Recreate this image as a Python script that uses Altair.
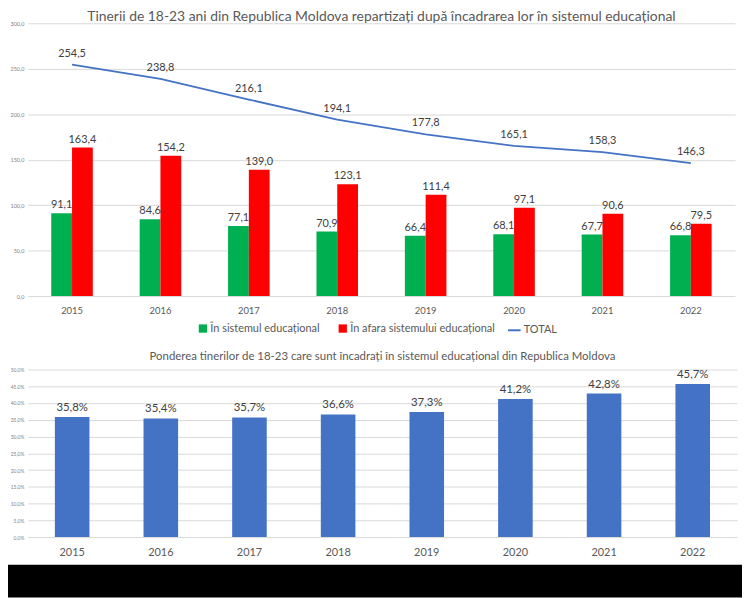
import altair as alt
import pandas as pd

years = ["2015", "2016", "2017", "2018", "2019", "2020", "2021", "2022"]
in_sistem = [91.1, 84.6, 77.1, 70.9, 66.4, 68.1, 67.7, 66.8]
in_afara = [163.4, 154.2, 139.0, 123.1, 111.4, 97.1, 90.6, 79.5]
total = [254.5, 238.8, 216.1, 194.1, 177.8, 165.1, 158.3, 146.3]
pondere = [35.8, 35.4, 35.7, 36.6, 37.3, 41.2, 42.8, 45.7]

S1 = "În sistemul educațional"
S2 = "În afara sistemului educațional"
S3 = "TOTAL"

title_top = "Tinerii de 18-23 ani din Republica Moldova repartizați după încadrarea lor în sistemul educațional"
title_bottom = "Ponderea tinerilor de 18-23 care sunt încadrați în sistemul educațional din Republica Moldova"

bars_df = pd.DataFrame({
    "year": years * 2,
    "series": [S1] * len(years) + [S2] * len(years),
    "value": in_sistem + in_afara,
})
total_df = pd.DataFrame({"year": years, "series": [S3] * len(years), "value": total})
pond_df = pd.DataFrame({"year": years, "value": pondere})

FONT = "Lato"
GRAY = "#595959"
LBL = "#404040"
fmt = "replace(format(datum.value, '.1f'), '.', ',')"
EXT = 20

color = alt.Color(
    "series:N",
    scale=alt.Scale(domain=[S1, S2], range=["#00b050", "#ff0000"]),
    legend=alt.Legend(title=None, orient="none", legendX=171, legendY=302,
                      direction="horizontal", labelFont=FONT, labelFontSize=11,
                      labelColor=GRAY, columnPadding=17, labelOffset=2,
                      symbolType="square", symbolSize=70, symbolStrokeWidth=0),
)
stroke = alt.Stroke(
    "series:N",
    scale=alt.Scale(domain=[S3], range=["#4472c4"]),
    legend=alt.Legend(title=None, orient="none", legendX=483, legendY=302,
                      direction="horizontal", labelFont=FONT, labelFontSize=11,
                      labelColor=GRAY, labelOffset=2,
                      symbolType="stroke", symbolSize=160, symbolStrokeWidth=2),
)

x_top = alt.X(
    "year:N",
    scale=alt.Scale(paddingInner=0.53, paddingOuter=0.265),
    axis=alt.Axis(title=None, labelAngle=0, domain=False, ticks=False, grid=False,
                  labelFont=FONT, labelFontSize=9.5, labelColor=GRAY, labelPadding=10),
)
y_top = alt.Y(
    "value:Q",
    scale=alt.Scale(domain=[0, 300], nice=False),
    axis=alt.Axis(title=None, values=[0, 50, 100, 150, 200, 250, 300], labelExpr=fmt,
                  labelFont=FONT, labelFontSize=5.5, labelColor="#7f7f7f", domain=False,
                  ticks=False, gridColor="#d9d9d9", labelPadding=4),
)
xoff = alt.XOffset("series:N", scale=alt.Scale(domain=[S1, S2], paddingInner=0, paddingOuter=0))

base_bars = alt.Chart(bars_df).transform_calculate(label=fmt)
bars = base_bars.mark_bar().encode(x=x_top, xOffset=xoff, y=y_top, color=color)
bar_text = base_bars.mark_text(dy=-8, font=FONT, fontSize=11, color=LBL).encode(
    x=x_top, xOffset=xoff, y=y_top, text="label:N")

base_tot = alt.Chart(total_df).transform_calculate(label=fmt)
line = base_tot.mark_line(strokeWidth=1.8).encode(x=x_top, y=y_top, stroke=stroke)
line_text = base_tot.mark_text(dy=-11, font=FONT, fontSize=11, color=LBL).encode(
    x=x_top, y=y_top, text="label:N")

top = alt.layer(bars, bar_text, line, line_text).properties(
    width=713, height=275,
    title=alt.TitleParams(title_top, font=FONT, fontSize=14, color=GRAY,
                          fontWeight="normal", offset=-3),
)

x_bot = alt.X(
    "year:N",
    scale=alt.Scale(paddingInner=0.61, paddingOuter=0.305),
    axis=alt.Axis(title=None, labelAngle=0, domain=False, ticks=False, grid=False,
                  labelFont=FONT, labelFontSize=11, labelColor=GRAY, labelPadding=10),
)
y_bot = alt.Y(
    "value:Q",
    scale=alt.Scale(domain=[0, 50], nice=False),
    axis=alt.Axis(title=None, values=list(range(0, 51, 5)), labelExpr=fmt + " + '%'",
                  labelFont=FONT, labelFontSize=5, labelColor="#7f7f7f", domain=False,
                  ticks=False, gridColor="#d9d9d9", labelPadding=4),
)
base_p = alt.Chart(pond_df).transform_calculate(label=fmt + " + '%'")
pbars = base_p.mark_bar(color="#4472c4").encode(x=x_bot, y=y_bot)
ptext = base_p.mark_text(dy=-9, font=FONT, fontSize=11.5, color=LBL).encode(
    x=x_bot, y=y_bot, text="label:N")
bottom = alt.layer(pbars, ptext).properties(
    width=715, height=169,
    title=alt.TitleParams(title_bottom, font=FONT, fontSize=11.5, color=GRAY,
                          fontWeight="normal", offset=5),
)

STRIP_W = 720
STRIP_H = 33
strip = alt.Chart(pd.DataFrame({"a": [0]})).mark_rect(color="black").encode(
    x=alt.value(-EXT), x2=alt.value(STRIP_W), y=alt.value(0), y2=alt.value(STRIP_H)
).properties(width=STRIP_W, height=STRIP_H)

inner = alt.vconcat(top, bottom, spacing=35)
chart = alt.concat(inner, strip, columns=1, spacing=7).properties(
    padding={"left": 0, "top": 0, "right": 0, "bottom": 0}, background="white"
).configure_view(stroke=None)

chart.save("out.html", embed_options={"renderer": "svg", "actions": False})
